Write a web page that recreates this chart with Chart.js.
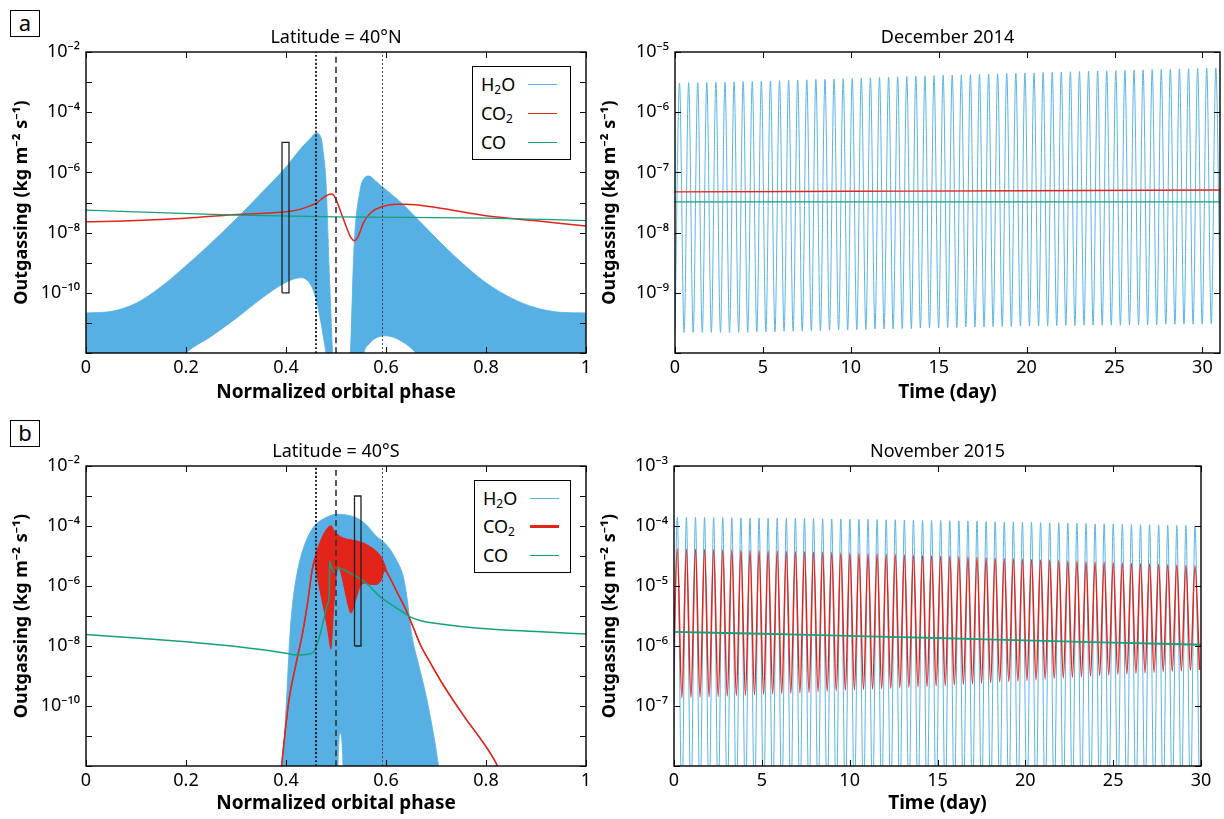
<!DOCTYPE html>
<html>
<head>
<meta charset="utf-8">
<script src="https://cdn.jsdelivr.net/npm/chart.js@4.4.1/dist/chart.umd.min.js"></script>
<style>
  body { margin: 0; background: #fff; width: 1224px; height: 819px; position: relative; overflow: hidden; font-family: 'Noto Sans', sans-serif; }
  canvas { position: absolute; }
  .tag { position: absolute; box-sizing: border-box; border: 1px solid #000; width: 30px; height: 27px; font-size: 22px; line-height: 23px; text-align: center; }
  .legend { position: absolute; box-sizing: border-box; border: 1.5px solid #000; background: #fff; font-size: 18px; }
  .legend .row { position: absolute; left: 8px; width: 84px; height: 22px; line-height: 22px; }
  .legend .ln { position: absolute; left: 47px; top: 11px; width: 29px; height: 0; }
  .legend sub { font-size: 12px; vertical-align: -3px; }
</style>
</head>
<body>
<div class="tag" style="left:10px;top:10px">a</div>
<div class="tag" style="left:10px;top:420px">b</div>
<canvas id="cA1" width="612" height="410" style="left:0;top:0"></canvas>
<canvas id="cA2" width="634" height="410" style="left:590px;top:0"></canvas>
<canvas id="cB1" width="612" height="409" style="left:0;top:410px"></canvas>
<canvas id="cB2" width="634" height="409" style="left:590px;top:410px"></canvas>

<div class="legend" style="left:472px;top:66px;width:99px;height:94px">
  <div class="row" style="top:6px">H<sub>2</sub>O<span class="ln" style="border-top:1.2px solid #5ab4e5"></span></div>
  <div class="row" style="top:35px">CO<sub>2</sub><span class="ln" style="border-top:1.5px solid #e3241b"></span></div>
  <div class="row" style="top:64px">CO<span class="ln" style="border-top:1.5px solid #16a07a"></span></div>
</div>
<div class="legend" style="left:474px;top:480px;width:97px;height:93px">
  <div class="row" style="top:6px">H<sub>2</sub>O<span class="ln" style="border-top:1.2px solid #5ab4e5"></span></div>
  <div class="row" style="top:34px">CO<sub>2</sub><span class="ln" style="border-top:3px solid #e3241b;top:10px"></span></div>
  <div class="row" style="top:63px">CO<span class="ln" style="border-top:1.5px solid #16a07a"></span></div>
</div>

<script>
// ---- data (fluxes in kg m-2 s-1; left panels stored as log10) ----
const phaseTicks = [0, 0.2, 0.4, 0.6, 0.8, 1];
const dayTicks = [0, 5, 10, 15, 20, 25, 30];
const markerPhases = [0.46, 0.5, 0.593];

// panel a, left: latitude 40N
const phaseH2oA = [0, 0.05, 0.1, 0.15, 0.2, 0.25, 0.3, 0.35, 0.4, 0.43, 0.45, 0.46, 0.47, 0.475, 0.48, 0.487, 0.493, 0.496, 0.526,
  0.529, 0.536, 0.548, 0.556, 0.566, 0.58, 0.6, 0.63, 0.66, 0.7, 0.75, 0.8, 0.85, 0.9, 0.95, 1.0];
const h2oUpperA = [-10.67, -10.62, -10.35, -9.8, -9.1, -8.35, -7.55, -6.7, -5.82, -5.2, -4.85, -4.69, -4.85, -5.4, -6.3, -9.5, -12, -13, -13,
  -12, -8.5, -6.6, -6.2, -6.12, -6.3, -6.58, -7.0, -7.5, -8.18, -8.98, -9.67, -10.17, -10.5, -10.65, -10.67];
const h2oLowerA = [-13, -13, -13, -13, -12, -11.45, -10.85, -10.2, -9.65, -9.5, -9.75, -10.2, -11, -11.5, -12, -13, -13, -13, -13,
  -13, -13, -13, -12, -11.7, -11.5, -11.43, -11.6, -12, -13, -13, -13, -13, -13, -13, -13];
const phaseCo2A = [0, 0.1, 0.2, 0.3, 0.4, 0.43, 0.45, 0.46, 0.47, 0.48, 0.49, 0.495, 0.5, 0.51, 0.52, 0.53, 0.537, 0.545, 0.555, 0.57, 0.59, 0.62, 0.64, 0.7, 0.8, 0.9, 1.0];
const co2A = [-7.64, -7.6, -7.52, -7.4, -7.31, -7.22, -7.1, -7.03, -6.9, -6.78, -6.72, -6.75, -6.9, -7.33, -7.78, -8.17, -8.27, -8.1, -7.67, -7.33, -7.15, -7.06, -7.06, -7.17, -7.44, -7.61, -7.78];
const phaseCoA = [0, 0.3, 0.5, 0.8, 1.0];
const coA = [-7.25, -7.42, -7.48, -7.52, -7.6];
const boxA = { phase: [0.392, 0.406], logFlux: [-10, -5] };

// panel b, left: latitude 40S
const phaseH2oB = [0.385, 0.393, 0.401, 0.408, 0.414, 0.423, 0.433, 0.448, 0.46, 0.48, 0.5, 0.503, 0.504, 0.508, 0.514, 0.515, 0.52, 0.54, 0.56, 0.58,
  0.6, 0.62, 0.635, 0.642, 0.651, 0.665, 0.682, 0.705, 0.712];
const h2oUpperB = [-13, -12, -9.8, -7.58, -6.47, -5.5, -4.83, -4.22, -3.94, -3.72, -3.61, -3.61, -3.61, -3.61, -3.62, -3.62, -3.63, -3.72, -3.95, -4.33,
  -4.61, -5.11, -5.72, -6.39, -7.58, -8.6, -9.8, -12, -13];
const h2oLowerB = [-13, -13, -13, -13, -13, -13, -13, -13, -13, -13, -13, -13, -12, -10.9, -12, -13, -13, -13, -13, -13,
  -13, -13, -13, -13, -13, -13, -13, -13, -13];
const phaseCo2B = [0.385, 0.391, 0.398, 0.406, 0.42, 0.433, 0.444, 0.452, 0.456, 0.465, 0.475, 0.485, 0.49, 0.494, 0.5, 0.505, 0.51, 0.52, 0.53, 0.54,
  0.55, 0.56, 0.57, 0.58, 0.59, 0.597, 0.602, 0.61, 0.625, 0.64, 0.655, 0.67, 0.69, 0.709, 0.73, 0.747, 0.765, 0.785, 0.805, 0.82, 0.83];
const co2UpperB = [-13, -12, -10.9, -9.8, -8.6, -7.58, -6.47, -5.5, -5.2, -4.7, -4.3, -4.05, -4.0, -4.12, -4.25, -4.32, -4.38, -4.44, -4.47, -4.5,
  -4.55, -4.62, -4.72, -4.85, -5.05, -5.3, -5.55, -5.8, -6.3, -6.8, -7.4, -8.0, -8.6, -9.15, -9.7, -10.12, -10.55, -11.0, -11.48, -11.9, -12.3];
const co2LowerB = [-13, -12, -10.9, -9.8, -8.6, -7.58, -6.47, -5.5, -5.2, -5.9, -6.7, -7.6, -8.1, -7.0, -5.7, -5.35, -5.55, -6.3, -6.9, -6.4,
  -5.95, -5.9, -5.95, -5.95, -5.8, -5.5, -5.55, -5.8, -6.3, -6.8, -7.4, -8.0, -8.6, -9.15, -9.7, -10.12, -10.55, -11.0, -11.48, -11.9, -12.3];
const phaseCoB = [0, 0.1, 0.2, 0.3, 0.4, 0.42, 0.44, 0.455, 0.465, 0.475, 0.483, 0.4865, 0.4875, 0.49, 0.495, 0.5, 0.505, 0.51, 0.52, 0.54,
  0.563, 0.586, 0.61, 0.64, 0.647, 0.67, 0.709, 0.785, 0.9, 1.0];
const coB = [-7.62, -7.73, -7.86, -8.02, -8.24, -8.3, -8.28, -8.2, -7.8, -7.15, -6.6, -6.3, -5.15, -5.35, -5.5, -5.55, -5.4, -5.42, -5.5, -5.67,
  -5.94, -6.33, -6.61, -6.94, -7.02, -7.16, -7.27, -7.41, -7.52, -7.6];
const boxB = { phase: [0.537, 0.55], logFlux: [-8, -3] };

// panel a, right: December 2014 (one peak / trough per rotation)
const decFirstTrough = 0.0, decRotation = 0.517;   // days
const decH2oPeaks = [3.05, 3.1, 3.1, 3.12, 3.15, 3.18, 3.2, 3.22, 3.25, 3.28,
  3.3, 3.35, 3.38, 3.42, 3.45, 3.5, 3.53, 3.57, 3.6, 3.65,
  3.7, 3.74, 3.78, 3.82, 3.87, 3.92, 3.96, 4.0, 4.05, 4.1,
  4.13, 4.18, 4.22, 4.27, 4.3, 4.35, 4.4, 4.43, 4.47, 4.52,
  4.56, 4.6, 4.65, 4.7, 4.74, 4.78, 4.83, 4.88, 4.93, 4.97,
  5.02, 5.06, 5.1, 5.15, 5.2, 5.24, 5.28, 5.33, 5.38, 5.42];   // x1e-6
const decH2oTroughs = [2.3, 2.2, 2.2, 2.2, 2.2, 2.2, 2.2, 2.2, 2.2, 2.25,
  2.25, 2.25, 2.3, 2.3, 2.3, 2.35, 2.35, 2.4, 2.4, 2.4,
  2.45, 2.45, 2.5, 2.5, 2.5, 2.55, 2.55, 2.6, 2.6, 2.6,
  2.65, 2.65, 2.7, 2.7, 2.7, 2.75, 2.75, 2.75, 2.8, 2.8,
  2.8, 2.85, 2.85, 2.85, 2.85, 2.9, 2.9, 2.9, 2.9, 2.9,
  2.95, 2.95, 2.95, 2.95, 3.0, 3.0, 3.0, 3.0, 3.0, 3.05, 3.05];   // x1e-10
const decDays = [0, 10, 20, 31];
const decCo2 = [4.75, 4.85, 4.95, 5.1];   // x1e-8
const decCo = [3.25, 3.25, 3.25, 3.25];   // x1e-8

// panel b, right: November 2015
const novFirstTrough = -0.07, novRotation = 0.517;
const novH2oPeaks = [1.40, 1.40, 1.39, 1.39, 1.38, 1.38, 1.37, 1.37, 1.36, 1.36,
  1.35, 1.35, 1.34, 1.34, 1.33, 1.33, 1.32, 1.31, 1.31, 1.30,
  1.29, 1.29, 1.28, 1.27, 1.27, 1.26, 1.25, 1.24, 1.24, 1.23,
  1.22, 1.21, 1.21, 1.20, 1.19, 1.18, 1.17, 1.17, 1.16, 1.15,
  1.14, 1.13, 1.13, 1.12, 1.11, 1.10, 1.09, 1.09, 1.08, 1.07,
  1.06, 1.05, 1.05, 1.04, 1.03, 1.02, 1.02, 1.01];   // x1e-4
const novH2oTroughs = [2, 2, 2, 2, 2, 2, 2, 2, 2, 2,
  2, 2, 2, 2, 2, 2, 2, 2, 2, 2,
  2, 2, 2, 2, 2, 2, 2, 2, 2, 2,
  2, 2, 2, 2, 2, 2, 2, 2, 2, 2,
  2, 2, 2, 2, 2, 2, 2, 2, 2, 2,
  2, 2, 2, 2, 2, 2, 2, 2, 2];   // x1e-9, below the axis
const novCo2Peaks = [4.15, 4.12, 4.08, 4.05, 4.02, 3.98, 3.95, 3.92, 3.88, 3.85,
  3.82, 3.78, 3.75, 3.72, 3.68, 3.65, 3.62, 3.58, 3.55, 3.52,
  3.48, 3.45, 3.41, 3.38, 3.34, 3.3, 3.27, 3.23, 3.2, 3.16,
  3.12, 3.08, 3.04, 3.0, 2.96, 2.92, 2.88, 2.84, 2.8, 2.76,
  2.72, 2.68, 2.65, 2.61, 2.58, 2.54, 2.51, 2.48, 2.44, 2.41,
  2.38, 2.35, 2.32, 2.29, 2.26, 2.23, 2.2, 2.18];   // x1e-5
const novCo2Troughs = [1.35, 1.37, 1.39, 1.41, 1.43, 1.45, 1.47, 1.5, 1.52, 1.54,
  1.57, 1.59, 1.62, 1.64, 1.67, 1.7, 1.73, 1.78, 1.8, 1.83,
  1.86, 1.89, 1.92, 1.95, 1.98, 2.02, 2.05, 2.09, 2.13, 2.17,
  2.2, 2.25, 2.3, 2.35, 2.4, 2.45, 2.5, 2.55, 2.6, 2.66,
  2.73, 2.8, 2.87, 2.94, 3.01, 3.08, 3.15, 3.22, 3.3, 3.37,
  3.44, 3.51, 3.58, 3.65, 3.72, 3.79, 3.86, 3.93, 4.0];   // x1e-7
const novDays = [0, 5, 10, 15, 20, 25, 30];
const novCo = [1.72, 1.6, 1.47, 1.36, 1.24, 1.14, 1.05];   // x1e-6

// ---- helpers ----
const BLUE = '#56b0e3', RED = '#e3241b', GREEN = '#16a07a';
Chart.defaults.font.family = "'Noto Sans', sans-serif";
Chart.defaults.color = '#000';

function logPts(xs, logs) {
  return xs.map((x, i) => ({ x: x, y: Math.pow(10, logs[i]) }));
}
function scaled(xs, vals, unit) {
  return xs.map((x, i) => ({ x: x, y: vals[i] * unit }));
}
// alternate troughs and peaks, one rotation apart
function rotations(start, period, troughs, tUnit, peaks, pUnit) {
  const out = [];
  troughs.forEach((v, i) => {
    out.push({ x: start + i * period, y: v * tUnit });
    if (i < peaks.length) out.push({ x: start + (i + 0.5) * period, y: peaks[i] * pUnit });
  });
  return out;
}
function boxPts(b) {
  const [x0, x1] = b.phase, [y0, y1] = b.logFlux.map(v => Math.pow(10, v));
  return [{ x: x0, y: y0 }, { x: x0, y: y1 }, { x: x1, y: y1 }, { x: x1, y: y0 }, { x: x0, y: y0 }];
}
function markerSets(lo, hi) {
  const styles = [
    { borderColor: '#000', borderWidth: 1.6, borderDash: [2, 2] },
    { borderColor: '#333', borderWidth: 1.6, borderDash: [6, 4] },
    { borderColor: '#444', borderWidth: 1, borderDash: [2, 2] }
  ];
  return markerPhases.map((p, i) => Object.assign({
    data: [{ x: p, y: Math.pow(10, lo) }, { x: p, y: Math.pow(10, hi) }], order: 1, fill: false
  }, styles[i]));
}
const SUP = { '-': '\u207b', '0': '\u2070', '1': '\u00b9', '2': '\u00b2', '3': '\u00b3', '4': '\u2074', '5': '\u2075', '6': '\u2076', '7': '\u2077', '8': '\u2078', '9': '\u2079' };
function pow10Label(e) {
  return '10' + String(e).split('').map(c => SUP[c]).join('');
}

const framePlugin = {
  id: 'frame',
  afterDatasetsDraw(chart) {
    const { ctx, chartArea: a, scales } = chart;
    ctx.save();
    ctx.strokeStyle = '#000';
    ctx.lineWidth = 1;
    ctx.beginPath();
    scales.x.ticks.forEach(t => {
      const px = Math.round(scales.x.getPixelForValue(t.value)) + 0.5;
      ctx.moveTo(px, a.bottom); ctx.lineTo(px, a.bottom - 6);
      ctx.moveTo(px, a.top); ctx.lineTo(px, a.top + 6);
    });
    scales.y.ticks.forEach(t => {
      const py = Math.round(scales.y.getPixelForValue(t.value)) + 0.5;
      ctx.moveTo(a.left, py); ctx.lineTo(a.left + 6, py);
      ctx.moveTo(a.right, py); ctx.lineTo(a.right - 6, py);
    });
    ctx.stroke();
    ctx.lineWidth = 1.4;
    ctx.strokeRect(a.left, a.top, a.right - a.left, a.bottom - a.top);
    ctx.restore();
  }
};

function makePanel(id, p) {
  new Chart(document.getElementById(id), {
    type: 'line',
    data: { datasets: p.datasets },
    plugins: [framePlugin],
    options: {
      responsive: false,
      animation: false,
      devicePixelRatio: 1,
      layout: { padding: { left: 0, top: 0, bottom: 0, right: p.padRight } },
      elements: { point: { radius: 0 }, line: { cubicInterpolationMode: 'monotone' } },
      plugins: {
        legend: { display: false },
        tooltip: { enabled: false },
        title: {
          display: true, text: p.title, fullSize: false, color: '#000',
          font: { size: 18, weight: 'normal', lineHeight: 1.0 }, padding: { top: p.titleTop, bottom: 5 }
        }
      },
      scales: {
        x: {
          type: 'linear', min: p.xMin, max: p.xMax,
          afterBuildTicks: s => { s.ticks = p.xTicks.map(v => ({ value: v })); },
          afterFit: s => { s.height = p.xHeight; },
          ticks: { font: { size: 18 }, padding: 4, maxRotation: 0, autoSkip: false, callback: v => String(v) },
          grid: { display: false, drawTicks: false },
          border: { display: false },
          title: { display: true, text: p.xTitle, font: { size: 19, weight: 'bold' }, padding: { top: 0, bottom: p.xTitlePad } }
        },
        y: {
          type: 'logarithmic', min: Math.pow(10, p.yLo), max: Math.pow(10, p.yHi),
          afterBuildTicks: s => {
            const t = [];
            for (let e = p.yLo; e <= p.yHi; e++) t.push({ value: Math.pow(10, e) });
            s.ticks = t;
          },
          afterFit: s => { s.width = p.yWidth; },
          ticks: {
            font: { size: 18 }, padding: 6, autoSkip: false,
            callback: v => {
              const e = Math.round(Math.log10(v));
              return p.yLabels.includes(e) ? pow10Label(e) : '';
            }
          },
          grid: { display: false, drawTicks: false },
          border: { display: false },
          title: { display: true, text: 'Outgassing (kg m\u207b\u00b2 s\u207b\u00b9)', font: { size: 18, weight: 'bold' }, padding: { top: p.yTitlePad, bottom: 0 } }
        }
      }
    }
  });
}

// ---- panel a, left ----
makePanel('cA1', {
  title: 'Latitude = 40\u00b0N', titleTop: 29, padRight: 26, xHeight: 57, yWidth: 86,
  xMin: 0, xMax: 1, xTicks: phaseTicks, xTitle: 'Normalized orbital phase', xTitlePad: 6,
  yLo: -12, yHi: -2, yLabels: [-2, -4, -6, -8, -10], yTitlePad: 11,
  datasets: [
    ...markerSets(-12, -2),
    { data: boxPts(boxA), borderColor: '#222', borderWidth: 1.3, fill: false, order: 2, cubicInterpolationMode: 'default', tension: 0 },
    { data: logPts(phaseCoA, coA), borderColor: GREEN, borderWidth: 1.3, fill: false, order: 3 },
    { data: logPts(phaseCo2A, co2A), borderColor: RED, borderWidth: 1.5, fill: false, order: 4 },
    { data: logPts(phaseH2oA, h2oLowerA), borderColor: BLUE, borderWidth: 0.8, fill: false, order: 9 },
    { data: logPts(phaseH2oA, h2oUpperA), borderColor: BLUE, borderWidth: 0.8, backgroundColor: BLUE, fill: '-1', order: 8 }
  ]
});

// ---- panel a, right ----
makePanel('cA2', {
  title: 'December 2014', titleTop: 29, padRight: 4, xHeight: 57, yWidth: 85,
  xMin: 0, xMax: 31, xTicks: dayTicks, xTitle: 'Time (day)', xTitlePad: 6,
  yLo: -10, yHi: -5, yLabels: [-5, -6, -7, -8, -9], yTitlePad: 9,
  datasets: [
    { data: scaled(decDays, decCo, 1e-8), borderColor: GREEN, borderWidth: 1.2, fill: false, order: 2 },
    { data: scaled(decDays, decCo2, 1e-8), borderColor: RED, borderWidth: 1.4, fill: false, order: 3 },
    { data: rotations(decFirstTrough, decRotation, decH2oTroughs, 1e-10, decH2oPeaks, 1e-6), borderColor: '#5ab4e5', borderWidth: 1, fill: false, order: 5 }
  ]
});

// ---- panel b, left ----
makePanel('cB1', {
  title: 'Latitude = 40\u00b0S', titleTop: 33, padRight: 26, xHeight: 53, yWidth: 86,
  xMin: 0, xMax: 1, xTicks: phaseTicks, xTitle: 'Normalized orbital phase', xTitlePad: 4,
  yLo: -12, yHi: -2, yLabels: [-2, -4, -6, -8, -10], yTitlePad: 11,
  datasets: [
    ...markerSets(-12, -2),
    { data: boxPts(boxB), borderColor: '#222', borderWidth: 1.3, fill: false, order: 2, cubicInterpolationMode: 'default', tension: 0 },
    { data: logPts(phaseCoB, coB), borderColor: GREEN, borderWidth: 1.5, fill: false, order: 3 },
    { data: logPts(phaseCo2B, co2LowerB), borderColor: RED, borderWidth: 1.2, fill: false, order: 5 },
    { data: logPts(phaseCo2B, co2UpperB), borderColor: RED, borderWidth: 1.5, backgroundColor: RED, fill: '-1', order: 4 },
    { data: logPts(phaseH2oB, h2oLowerB), borderColor: BLUE, borderWidth: 0.8, fill: false, order: 9 },
    { data: logPts(phaseH2oB, h2oUpperB), borderColor: BLUE, borderWidth: 0.8, backgroundColor: BLUE, fill: '-1', order: 8 }
  ]
});

// ---- panel b, right ----
makePanel('cB2', {
  title: 'November 2015', titleTop: 33, padRight: 23, xHeight: 53, yWidth: 84,
  xMin: 0, xMax: 30, xTicks: dayTicks, xTitle: 'Time (day)', xTitlePad: 4,
  yLo: -8, yHi: -3, yLabels: [-3, -4, -5, -6, -7], yTitlePad: 9,
  datasets: [
    { data: scaled(novDays, novCo, 1e-6), borderColor: GREEN, borderWidth: 1.8, fill: false, order: 2 },
    { data: rotations(novFirstTrough, novRotation, novCo2Troughs, 1e-7, novCo2Peaks, 1e-5), borderColor: RED, borderWidth: 1.5, fill: false, order: 3 },
    { data: rotations(novFirstTrough, novRotation, novH2oTroughs, 1e-9, novH2oPeaks, 1e-4), borderColor: '#5ab4e5', borderWidth: 1, fill: false, order: 5 }
  ]
});
</script>
</body>
</html>
